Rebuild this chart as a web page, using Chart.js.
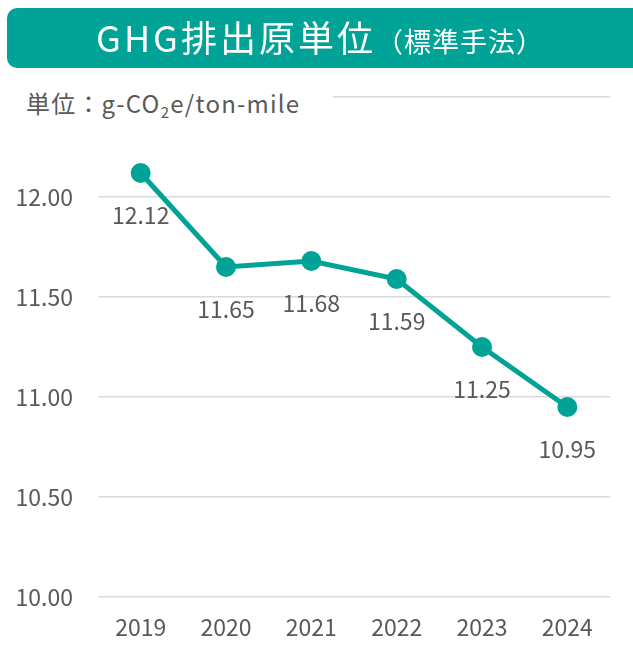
<!DOCTYPE html>
<html>
<head>
<meta charset="utf-8">
<script src="https://cdn.jsdelivr.net/npm/chart.js@4/dist/chart.umd.min.js"></script>
<style>
  html, body { margin: 0; padding: 0; background: #fff; }
  #wrap { position: relative; width: 633px; height: 649px; overflow: hidden; font-family: "Noto Sans CJK JP", "Noto Sans", sans-serif; }
  #chart { position: absolute; left: 0; top: 0; }
  #banner {
    position: absolute; left: 7px; top: 8px; width: 640px; height: 60px;
    background: #00a396; border-radius: 10px; color: #fff;
  }
  #title { position: absolute; left: 0; width: 626px; top: 4px; text-align: center; font-size: 36px; line-height: 48px; letter-spacing: 3px; white-space: nowrap; }
  #title small { font-size: 27px; letter-spacing: 1px; }
  #unit {
    position: absolute; left: 0; top: 84px; width: 333px; height: 38px; background: #fff;
    color: #595959; font-size: 24px; line-height: 38px; padding-left: 26px; box-sizing: border-box;
    letter-spacing: 1.2px; white-space: nowrap;
  }
  #unit sub { font-size: 15px; vertical-align: -5px; }
</style>
</head>
<body>
<div id="wrap">
  <canvas id="chart" width="633" height="649"></canvas>
  <div id="banner"><div id="title">GHG排出原単位<small>（標準手法）</small></div></div>
  <div id="unit">単位：g-CO<sub>2</sub>e/ton-mile</div>
</div>
<script>
const years = ["2019", "2020", "2021", "2022", "2023", "2024"];
const ghgValues = [12.12, 11.65, 11.68, 11.59, 11.25, 10.95];
const yTicks = [10.0, 10.5, 11.0, 11.5, 12.0, 12.5];

const teal = "#00a396";
const textGray = "#595959";
const fontFamily = '"Noto Sans CJK JP", "Noto Sans", sans-serif';

// draws the value under each point
const valueLabels = {
  id: "valueLabels",
  afterDatasetsDraw(chart) {
    const ctx = chart.ctx;
    const meta = chart.getDatasetMeta(0);
    ctx.save();
    ctx.fillStyle = textGray;
    ctx.font = "23px " + fontFamily;
    ctx.textAlign = "center";
    ctx.textBaseline = "middle";
    meta.data.forEach((pt, i) => {
      ctx.fillText(ghgValues[i].toFixed(2), pt.x, pt.y + 42);
    });
    ctx.restore();
  },
};

new Chart(document.getElementById("chart"), {
  type: "line",
  data: {
    labels: years,
    datasets: [
      {
        data: ghgValues,
        borderColor: teal,
        backgroundColor: teal,
        borderWidth: 5,
        pointRadius: 10,
        pointHoverRadius: 10,
        pointBackgroundColor: teal,
        pointBorderWidth: 0,
        tension: 0,
      },
    ],
  },
  options: {
    responsive: false,
    animation: false,
    layout: { padding: { top: 97, right: 23, left: 0, bottom: 0 } },
    plugins: { legend: { display: false }, tooltip: { enabled: false } },
    scales: {
      x: {
        offset: true,
        grid: { display: false, drawTicks: false },
        border: { display: false },
        ticks: { color: textGray, font: { family: fontFamily, size: 23 }, padding: 16 },
        afterFit: (scale) => { scale.height = 52; },
      },
      y: {
        min: 10,
        max: 12.5,
        afterBuildTicks: (scale) => { scale.ticks = yTicks.map((v) => ({ value: v })); },
        grid: { color: "#d9d9d9", lineWidth: 1.5, drawTicks: false },
        border: { display: false },
        ticks: {
          color: textGray,
          font: { family: fontFamily, size: 23 },
          padding: 25,
          callback: (v) => (v === 12.5 ? "" : v.toFixed(2)),
        },
        afterFit: (scale) => { scale.width = 98; },
      },
    },
  },
  plugins: [valueLabels],
});
</script>
</body>
</html>
